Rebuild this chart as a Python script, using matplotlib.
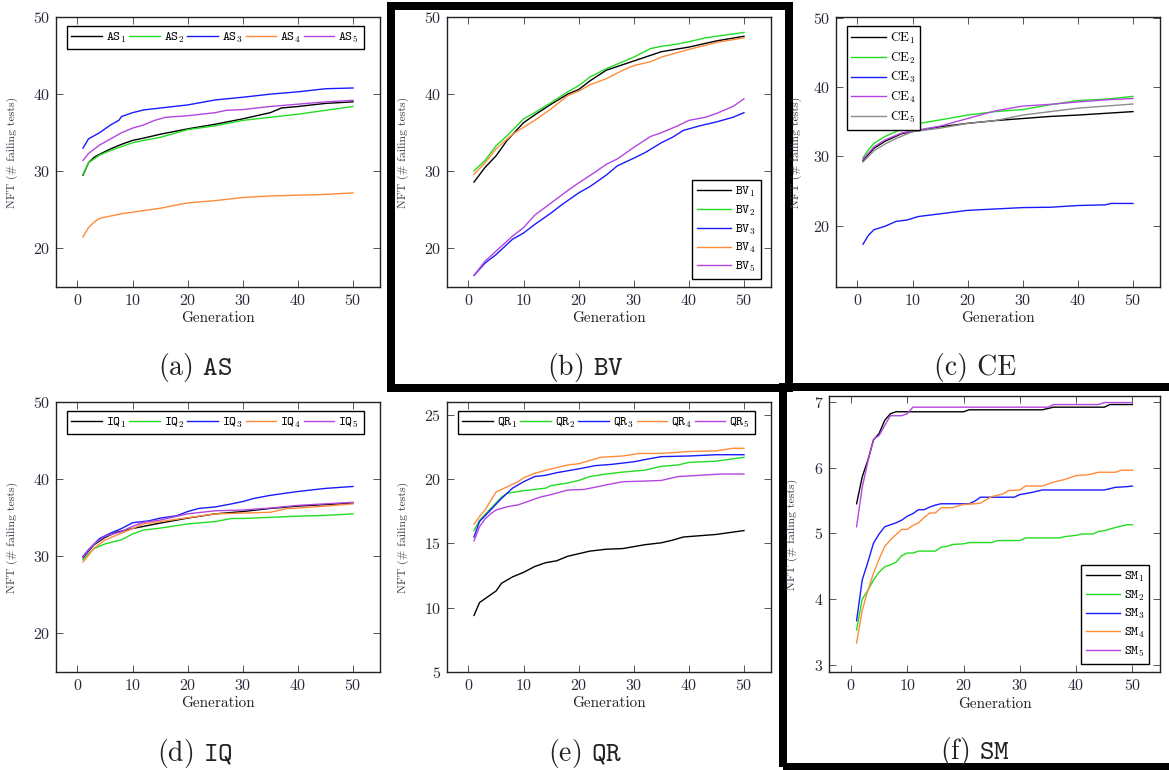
import numpy as np
import matplotlib.pyplot as plt
from matplotlib.patches import Rectangle

plt.rcParams['font.family'] = 'cmr10'
plt.rcParams['mathtext.fontset'] = 'cm'
plt.rcParams['axes.formatter.use_mathtext'] = True

# line colours used in every panel (series 1..5)
colors = ['black', '#22dd22', '#1a1aff', '#ff8c3a', '#b346e0']

# (a) AS  -- (generation, NFT)
as1 = [(1, 29.5), (2, 31.1), (3, 31.8), (4, 32.2), (6, 32.9), (8, 33.5), (10, 34.0), (12, 34.3), (15, 34.8),
       (20, 35.5), (25, 36.1), (30, 36.8), (35, 37.6), (37, 38.2), (40, 38.4), (45, 38.8), (50, 39.0)]
as2 = [(1, 29.6), (2, 31.1), (4, 32.1), (6, 32.7), (8, 33.2), (10, 33.7), (12, 34.0), (15, 34.4), (20, 35.4),
       (25, 35.9), (30, 36.6), (35, 37.0), (40, 37.4), (45, 37.9), (50, 38.4)]
as3 = [(1, 33.0), (2, 34.2), (4, 35.0), (6, 36.0), (7.5, 36.6), (8, 37.1), (10, 37.6), (12, 37.95), (15, 38.2),
       (20, 38.6), (25, 39.25), (30, 39.6), (35, 40.0), (40, 40.3), (45, 40.7), (50, 40.8)]
as4 = [(1, 21.5), (2, 22.7), (3, 23.4), (4, 23.9), (6, 24.2), (8, 24.5), (10, 24.7), (12, 24.9), (15, 25.2),
       (17, 25.5), (20, 25.9), (25, 26.2), (30, 26.6), (35, 26.8), (40, 26.9), (45, 27.0), (50, 27.2)]
as5 = [(1, 31.4), (2, 32.3), (4, 33.4), (6, 34.2), (8, 35.0), (10, 35.6), (12, 36.0), (14, 36.6), (16, 37.0),
       (20, 37.2), (25, 37.6), (27, 37.9), (30, 38.0), (35, 38.4), (40, 38.7), (45, 39.0), (50, 39.2)]

# (b) BV
bv1 = [(1, 28.6), (3, 30.5), (5, 32.0), (7, 34.0), (10, 36.3), (12, 37.3), (15, 38.7), (18, 40.0), (20, 40.6),
       (22, 41.7), (25, 43.1), (30, 44.3), (35, 45.5), (40, 46.1), (45, 46.9), (50, 47.5)]
bv2 = [(1, 30.05), (3, 31.4), (5, 33.3), (7, 34.6), (10, 36.8), (12, 37.6), (15, 38.9), (18, 40.3), (20, 41.1),
       (22, 42.2), (25, 43.3), (28, 44.2), (30, 44.8), (33, 45.9), (35, 46.2), (38, 46.5), (40, 46.8),
       (43, 47.3), (45, 47.5), (50, 48.0)]
bv3 = [(1, 16.5), (3, 18.1), (5, 19.2), (8, 21.2), (10, 22.0), (12, 23.1), (15, 24.6), (17, 25.7), (20, 27.2),
       (22, 28.0), (25, 29.5), (27, 30.7), (30, 31.7), (32, 32.4), (35, 33.7), (37, 34.4), (39, 35.3),
       (42, 35.9), (45, 36.4), (48, 37.0), (50, 37.6)]
bv4 = [(1, 29.6), (3, 31.1), (5, 32.9), (8, 34.8), (10, 35.7), (12, 36.6), (15, 38.1), (18, 39.8), (20, 40.4),
       (22, 41.2), (25, 42.0), (28, 43.1), (30, 43.7), (33, 44.2), (35, 44.8), (40, 45.8), (45, 46.7), (50, 47.3)]
bv5 = [(1, 16.5), (3, 18.35), (5, 19.65), (8, 21.6), (10, 22.7), (12, 24.3), (15, 25.9), (18, 27.5), (20, 28.5),
       (23, 29.9), (25, 30.9), (27, 31.6), (30, 33.1), (33, 34.5), (35, 35.0), (38, 35.9), (40, 36.6),
       (43, 37.0), (45, 37.5), (48, 38.4), (50, 39.4)]

# (c) CE
ce1 = [(1, 29.4), (3, 31.2), (5, 32.2), (8, 33.3), (10, 33.6), (15, 34.3), (20, 34.8), (25, 35.2), (30, 35.5),
       (35, 35.8), (40, 36.0), (45, 36.25), (50, 36.5)]
ce2 = [(1, 29.8), (2, 31.0), (3, 31.9), (5, 32.9), (7, 33.6), (10, 34.6), (12, 34.9), (15, 35.3), (20, 36.0),
       (25, 36.5), (30, 36.8), (35, 37.5), (40, 38.1), (45, 38.3), (50, 38.7)]
ce3 = [(1, 17.3), (2, 18.6), (3, 19.4), (5, 19.9), (7, 20.6), (9, 20.8), (11, 21.3), (15, 21.7), (20, 22.2),
       (25, 22.4), (30, 22.6), (35, 22.65), (40, 22.9), (45, 23.0), (46, 23.2), (50, 23.2)]
ce4 = [(1, 29.6), (3, 31.4), (5, 32.4), (8, 33.4), (10, 33.7), (15, 34.4), (20, 35.5), (25, 36.6), (30, 37.3),
       (35, 37.55), (40, 37.9), (45, 38.2), (50, 38.4)]
ce5 = [(1, 29.2), (3, 30.85), (5, 31.8), (7, 32.6), (10, 33.6), (15, 34.1), (20, 34.8), (25, 35.2), (30, 36.0),
       (35, 36.5), (40, 37.0), (45, 37.3), (50, 37.6)]

# (d) IQ
iq1 = [(1, 29.8), (3, 31.5), (5, 32.45), (7, 33.1), (10, 33.6), (15, 34.3), (20, 34.95), (25, 35.5), (30, 35.8),
       (35, 36.2), (40, 36.5), (45, 36.7), (50, 36.9)]
iq2 = [(1, 29.55), (3, 31.0), (5, 31.6), (8, 32.15), (10, 32.9), (12, 33.4), (15, 33.65), (20, 34.2), (25, 34.5),
       (28, 34.9), (30, 34.9), (35, 35.05), (40, 35.2), (45, 35.3), (50, 35.5)]
iq3 = [(1, 30.0), (2, 30.85), (4, 32.3), (6, 33.0), (8, 33.6), (10, 34.35), (13, 34.6), (15, 34.95), (18, 35.25),
       (20, 35.8), (22, 36.2), (25, 36.4), (28, 36.8), (30, 37.1), (32, 37.5), (35, 37.9), (40, 38.4),
       (45, 38.8), (50, 39.05)]
iq4 = [(1, 29.25), (3, 31.05), (5, 32.1), (8, 33.0), (10, 33.6), (12, 34.2), (15, 34.5), (20, 35.0), (25, 35.5),
       (30, 35.6), (35, 35.7), (38, 36.2), (40, 36.25), (45, 36.5), (50, 36.8)]
iq5 = [(1, 29.9), (3, 31.6), (5, 32.6), (8, 33.2), (10, 33.9), (12, 34.4), (15, 34.7), (20, 35.5), (25, 35.9),
       (30, 36.0), (35, 36.25), (40, 36.6), (45, 36.8), (50, 37.0)]

# (e) QR
qr1 = [(1, 9.4), (2, 10.4), (3, 10.7), (4, 11.0), (5, 11.3), (6, 11.9), (8, 12.4), (10, 12.75), (12, 13.2),
       (14, 13.5), (16, 13.65), (18, 14.0), (20, 14.2), (22, 14.4), (25, 14.55), (28, 14.6), (30, 14.75),
       (32, 14.9), (35, 15.05), (37, 15.25), (39, 15.5), (42, 15.6), (45, 15.7), (50, 16.0)]
qr2 = [(1, 16.0), (2, 16.8), (4, 17.7), (6, 18.6), (7, 18.9), (10, 19.1), (14, 19.3), (15, 19.5), (18, 19.7),
       (20, 19.9), (22, 20.2), (25, 20.4), (28, 20.55), (32, 20.7), (35, 21.0), (38, 21.1), (40, 21.3),
       (45, 21.4), (50, 21.7)]
qr3 = [(1, 15.5), (2, 16.7), (4, 17.6), (6, 18.5), (8, 19.3), (10, 19.8), (12, 20.2), (14, 20.3), (16, 20.5),
       (20, 20.8), (23, 21.05), (26, 21.15), (30, 21.35), (33, 21.6), (35, 21.75), (40, 21.8), (45, 21.9),
       (50, 21.9)]
qr4 = [(1, 16.5), (2, 17.1), (3, 17.6), (5, 19.0), (7, 19.4), (9, 19.8), (10, 20.1), (12, 20.45), (15, 20.8),
       (18, 21.1), (20, 21.2), (24, 21.7), (28, 21.8), (31, 22.0), (35, 22.0), (40, 22.15), (45, 22.2),
       (48, 22.4), (50, 22.4)]
qr5 = [(1, 15.2), (2, 16.3), (3, 16.9), (4, 17.3), (5, 17.6), (7, 17.85), (9, 18.0), (11, 18.3), (13, 18.6),
       (15, 18.8), (18, 19.15), (21, 19.2), (25, 19.55), (28, 19.8), (32, 19.85), (35, 19.9), (38, 20.2),
       (42, 20.3), (46, 20.4), (50, 20.4)]

# (f) SM
sm1 = [(1, 5.45), (2, 5.86), (3, 6.11), (4, 6.42), (5, 6.52), (6, 6.72), (7, 6.82), (8, 6.85), (20, 6.85),
       (21, 6.88), (34, 6.88), (36, 6.92), (45, 6.92), (46, 6.96), (50, 6.96)]
sm2 = [(1, 3.53), (2, 4.0), (3, 4.13), (4, 4.29), (5, 4.41), (6, 4.49), (7, 4.52), (8, 4.56), (9, 4.66),
       (10, 4.7), (11, 4.7), (12, 4.73), (15, 4.73), (16, 4.79), (17, 4.8), (18, 4.83), (20, 4.84), (21, 4.86),
       (25, 4.86), (26, 4.89), (30, 4.89), (31, 4.93), (37, 4.93), (38, 4.95), (40, 4.97), (41, 4.99),
       (43, 4.99), (44, 5.03), (45, 5.04), (47, 5.09), (49, 5.13), (50, 5.13)]
sm3 = [(1, 3.67), (2, 4.29), (3, 4.56), (4, 4.85), (5, 4.99), (6, 5.1), (7, 5.13), (8, 5.16), (9, 5.2),
       (10, 5.26), (11, 5.3), (12, 5.36), (13, 5.36), (14, 5.4), (15, 5.43), (16, 5.45), (21, 5.45),
       (22, 5.49), (23, 5.55), (29, 5.55), (30, 5.59), (32, 5.62), (34, 5.66), (45, 5.66), (47, 5.7),
       (49, 5.71), (50, 5.72)]
sm4 = [(1, 3.33), (2, 3.83), (3, 4.13), (4, 4.39), (5, 4.61), (6, 4.8), (7, 4.9), (8, 4.98), (9, 5.06),
       (10, 5.06), (11, 5.12), (12, 5.16), (13, 5.24), (14, 5.31), (15, 5.31), (16, 5.39), (18, 5.39),
       (20, 5.44), (22, 5.45), (23, 5.46), (25, 5.56), (27, 5.6), (28, 5.65), (30, 5.66), (31, 5.72),
       (34, 5.72), (36, 5.78), (38, 5.82), (40, 5.88), (42, 5.89), (44, 5.93), (47, 5.93), (48, 5.96),
       (50, 5.96)]
sm5 = [(1, 5.1), (2, 5.7), (3, 6.09), (4, 6.43), (5, 6.49), (6, 6.64), (7, 6.79), (9, 6.79), (10, 6.82),
       (11, 6.92), (35, 6.92), (36, 6.96), (44, 6.96), (45, 6.99), (50, 6.99)]

W, H = 1169, 770
fig = plt.figure(figsize=(W / 100, H / 100), dpi=100)


def px_axes(l, t, r, b):
    return fig.add_axes([l / W, 1 - b / H, (r - l) / W, (b - t) / H])


def panel(box, series, name, tt, ylim, yticks, leg, ylab_x=-0.118):
    ax = px_axes(*box)
    for i, s in enumerate(series):
        g, v = zip(*s)
        c = colors[i]
        if name == 'CE' and i == 4:
            c = '#8c8c8c'
        if name == 'CE' and i == 3:
            c = colors[4]
        lab = (r'$\mathtt{%s}_{%d}$' if tt else r'$\mathrm{%s}_{%d}$') % (name, i + 1)
        ax.plot(g, v, color=c, lw=1.0, label=lab)
    ax.set_xlim(-3.9, 54.9)
    ax.set_ylim(*ylim)
    ax.set_xticks([0, 10, 20, 30, 40, 50])
    ax.set_yticks(yticks)
    ax.tick_params(direction='in', top=True, right=True, length=5, width=0.7,
                   color='#555555', labelsize=11.5, labelcolor='#2a2a3a', pad=4)
    for sp in ax.spines.values():
        sp.set_linewidth(1.0)
        sp.set_color('#222222')
    ax.set_xlabel('Generation', fontsize=11, color='#222222')
    ax.xaxis.set_label_coords(0.5, -0.09)
    ax.set_ylabel('NFT (# failing tests)', fontsize=8.5, color='#3a3a4a')
    ax.yaxis.set_label_coords(ylab_x, 0.5)
    if leg == 'top':
        lg = ax.legend(loc='upper left', bbox_to_anchor=(0.033, 0.967), ncol=5, fontsize=9.5,
                       handlelength=2.3, handletextpad=0.3, columnspacing=0.25, borderpad=0.35,
                       borderaxespad=0)
    elif leg == 'ul':
        lg = ax.legend(loc='upper left', bbox_to_anchor=(0.033, 0.967), fontsize=9.5,
                       handlelength=2.6, handletextpad=0.3, labelspacing=0.35, borderpad=0.35,
                       borderaxespad=0)
    else:
        lg = ax.legend(loc='lower right', bbox_to_anchor=(0.968, 0.03), fontsize=9.5,
                       handlelength=2.6, handletextpad=0.3, labelspacing=0.35, borderpad=0.35,
                       borderaxespad=0)
    lg.get_frame().set_edgecolor('black')
    lg.get_frame().set_linewidth(1.0)
    lg.get_frame().set_boxstyle('square', pad=0)
    lg.get_frame().set_alpha(1)
    return ax


panel((56, 17, 380, 287), [as1, as2, as3, as4, as5], 'AS', True, (15, 50), [20, 30, 40, 50], 'top')
panel((447, 17, 771, 287), [bv1, bv2, bv3, bv4, bv5], 'BV', True, (15, 50), [20, 30, 40, 50], 'lr')
panel((836, 17, 1160, 287), [ce1, ce2, ce3, ce4, ce5], 'CE', False, (11.1, 50.2), [20, 30, 40, 50], 'ul',
      ylab_x=-0.106)
panel((56, 402, 380, 672), [iq1, iq2, iq3, iq4, iq5], 'IQ', True, (15, 50), [20, 30, 40, 50], 'top')
panel((447, 402, 771, 672), [qr1, qr2, qr3, qr4, qr5], 'QR', True, (5, 26), [5, 10, 15, 20, 25], 'top')
panel((829, 396, 1160, 672), [sm1, sm2, sm3, sm4, sm5], 'SM', True, (2.89, 7.09), [3, 4, 5, 6, 7], 'lr',
      ylab_x=-0.094)

captions = [(195, 368, r'(a) $\mathtt{AS}$'), (585, 368, r'(b) $\mathtt{BV}$'), (975, 368, '(c) CE'),
            (195, 753, r'(d) $\mathtt{IQ}$'), (585, 753, r'(e) $\mathtt{QR}$'), (975, 752, r'(f) $\mathtt{SM}$')]
for x, y, t in captions:
    fig.text(x / W, 1 - y / H, t, ha='center', va='center', fontsize=20, color='#222222')

# thick frames around (b) and (f), drawn beneath the axes
lw = 8 * 72 / 100
fig.add_artist(Rectangle((391 / W, 1 - 388 / H), (789 - 391) / W, (388 - 6) / H, transform=fig.transFigure,
                         fill=False, ec='black', lw=lw, joinstyle='miter', clip_on=False, zorder=-1))
fig.add_artist(Rectangle((782.5 / W, 1 - 767 / H), (1180 - 782.5) / W, (767 - 386.5) / H,
                         transform=fig.transFigure, fill=False, ec='black', lw=lw, joinstyle='miter',
                         clip_on=False, zorder=-1))

fig.savefig('out.png', dpi=100)
